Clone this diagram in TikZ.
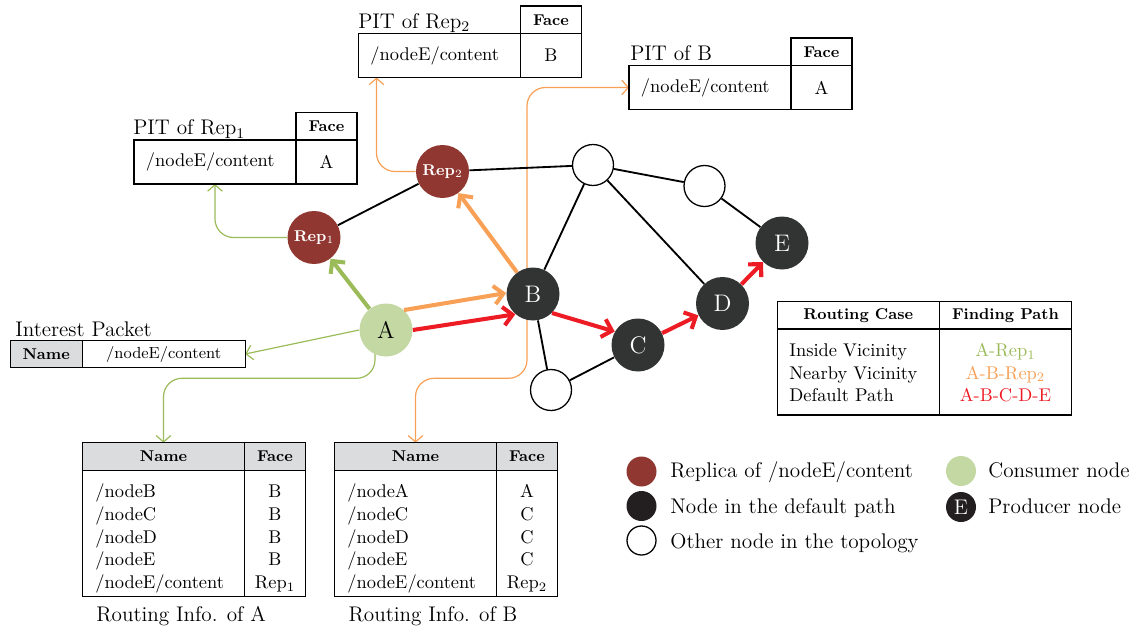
\documentclass[tikz,border=0pt]{standalone}
\usepackage{fontspec}
\usetikzlibrary{arrows.meta,backgrounds}

\newcommand\pxu{0.543pt}
\definecolor{repred}{RGB}{143,55,48}
\definecolor{pathgray}{RGB}{50,52,52}
\definecolor{legblack}{RGB}{35,31,32}
\definecolor{usergreen}{RGB}{196,216,164}
\definecolor{arrgreen}{RGB}{155,187,89}
\definecolor{arrorange}{RGB}{247,160,86}
\definecolor{arrred}{RGB}{237,28,36}
\definecolor{headgray}{RGB}{219,220,222}

\tikzset{
  net/.style={circle, inner sep=0pt, minimum size=53*\pxu, font=\fontsize{13}{15}\selectfont},
  replica/.style={net, fill=repred, text=white, font=\fontsize{8.5}{10}\selectfont\bfseries},
  onpath/.style={net, fill=pathgray, text=white},
  consumer/.style={net, fill=usergreen},
  other/.style={circle, draw, line width=0.7pt, minimum size=41*\pxu, inner sep=0pt},
  link/.style={line width=1pt},
  hop/.style={line width=2.2pt, -{Straight Barb[length=5pt,width=10pt]}},
  info/.style={line width=0.65pt, rounded corners=10pt, -{Straight Barb[length=3.5pt,width=8pt]}},
  cell/.style={draw, line width=0.7pt, inner sep=0pt, outer sep=0pt, font=\fontsize{10}{12}\selectfont},
  wide/.style={minimum width=162*\pxu},
  narrow/.style={minimum width=61*\pxu},
  pitrow/.style={minimum height=44*\pxu},
  flushleft/.style={text width=75pt, align=left},
  headrow/.style={minimum height=27.5*\pxu, font=\fontsize{8.5}{10}\selectfont\bfseries},
  shade/.style={fill=headgray},
  rows/.style={inner sep=0pt, align=left, font=\fontsize{10}{12.3}\selectfont},
  title/.style={inner sep=0pt, font=\fontsize{11.5}{14}\selectfont},
  legdot/.style={circle, inner sep=0pt, minimum size=30*\pxu}
}

\begin{document}
\begin{tikzpicture}[x=\pxu,y=-\pxu]
\useasboundingbox (0,0) rectangle (1143,629);

% topology
\node[consumer] (A) at (386,330) {A};
\node[onpath] (B) at (533,294) {B};
\node[onpath] (C) at (638,345) {C};
\node[onpath] (D) at (722.5,303.5) {D};
\node[onpath] (E) at (782,243) {E};
\node[replica] (rep1) at (314,237.5) {Rep$_1$};
\node[replica] (rep2) at (442.5,171.5) {Rep$_2$};
\node[other] (w1) at (593,165) {};
\node[other] (w2) at (704.5,186) {};
\node[other] (w3) at (551,390) {};

\draw[link] (rep1) -- (rep2) -- (w1) -- (w2) -- (E);
\draw[link] (w1) -- (B) -- (w3) -- (C);
\draw[link] (w1) -- (D);

\draw[hop, arrgreen] (A) -- (rep1);
\draw[hop, arrorange] (A.48) -- (B.178);
\draw[hop, arrorange] (B) -- (rep2);
\draw[hop, arrred] (A.east) -- (B.229);
\draw[hop, arrred] (B.315) -- (C.150);
\draw[hop, arrred] (C) -- (D);
\draw[hop, arrred] (D) -- (E);

% PIT of Rep1
\node[cell, wide, pitrow, flushleft] (pitOneName) at (215,162) {/nodeE/content};
\node[cell, narrow, pitrow, anchor=west] (pitOneFace) at (pitOneName.east) {A};
\node[cell, narrow, headrow, anchor=south] (pitOneHead) at (pitOneFace.north) {Face};
\node[title, anchor=base west] (pitOneTitle) at (133,135) {PIT of Rep$_1$};

% PIT of Rep2
\node[cell, wide, pitrow, flushleft] (pitTwoName) at (439.5,55.5) {/nodeE/content};
\node[cell, narrow, pitrow, anchor=west] (pitTwoFace) at (pitTwoName.east) {B};
\node[cell, narrow, headrow, anchor=south] (pitTwoHead) at (pitTwoFace.north) {Face};
\node[title, anchor=base west] (pitTwoTitle) at (358,28.3) {PIT of Rep$_2$};

% PIT of B
\node[cell, wide, pitrow, flushleft] (pitBName) at (710,87.5) {/nodeE/content};
\node[cell, narrow, pitrow, anchor=west] (pitBFace) at (pitBName.east) {A};
\node[cell, narrow, headrow, anchor=south] (pitBHead) at (pitBFace.north) {Face};
\node[title, anchor=base west] (pitBTitle) at (630,61) {PIT of B};

% interest packet
\node[cell, shade, minimum width=72*\pxu, minimum height=27.7*\pxu, font=\fontsize{8.5}{10}\selectfont\bfseries] (intName) at (46.2,354) {Name};
\node[cell, minimum width=163*\pxu, minimum height=27.7*\pxu, font=\fontsize{8.7}{10}\selectfont, anchor=west] (intValue) at (intName.east) {/nodeE/content};
\node[title, anchor=base west] (intTitle) at (15,336.5) {Interest Packet};

% routing info of A
\node[cell, wide, headrow, shade] (tabAHeadName) at (163.5,456.5) {Name};
\node[cell, narrow, headrow, shade, anchor=west] (tabAHeadFace) at (tabAHeadName.east) {Face};
\node[cell, wide, minimum height=126*\pxu, anchor=north] (tabABodyName) at (tabAHeadName.south) {};
\node[cell, narrow, minimum height=126*\pxu, anchor=north] (tabABodyFace) at (tabAHeadFace.south) {};
\node[rows, anchor=base west] (tabANames) at (95,588.5) {/nodeB\\/nodeC\\/nodeD\\/nodeE\\/nodeE/content};
\node[rows, align=center, anchor=base] (tabAFaces) at (tabABodyFace.center |- tabANames.base) {B\\B\\B\\B\\Rep$_1$};
\node[title, anchor=base west] (tabATitle) at (96,621) {Routing Info. of A};

% routing info of B
\node[cell, wide, headrow, shade] (tabBHeadName) at (415.5,456.5) {Name};
\node[cell, narrow, headrow, shade, anchor=west] (tabBHeadFace) at (tabBHeadName.east) {Face};
\node[cell, wide, minimum height=126*\pxu, anchor=north] (tabBBodyName) at (tabBHeadName.south) {};
\node[cell, narrow, minimum height=126*\pxu, anchor=north] (tabBBodyFace) at (tabBHeadFace.south) {};
\node[rows, anchor=base west] (tabBNames) at (347,588.5) {/nodeA\\/nodeC\\/nodeD\\/nodeE\\/nodeE/content};
\node[rows, align=center, anchor=base] (tabBFaces) at (tabBBodyFace.center |- tabBNames.base) {A\\C\\C\\C\\Rep$_2$};
\node[title, anchor=base west] (tabBTitle) at (348.3,621) {Routing Info. of B};

% routing cases
\node[cell, wide, headrow] (caseHead) at (858.3,315.3) {Routing Case};
\node[cell, headrow, minimum width=132.4*\pxu, anchor=west] (pathHead) at (caseHead.east) {Finding Path};
\node[cell, wide, minimum height=86*\pxu, anchor=north] (caseBody) at (caseHead.south) {};
\node[cell, minimum width=132.4*\pxu, minimum height=86*\pxu, anchor=north] (pathBody) at (pathHead.south) {};
\node[rows, anchor=base west] (caseRows) at (789,401.7) {Inside Vicinity\\Nearby Vicinity\\Default Path};
\node[rows, align=center, anchor=base] (pathRows) at (pathBody.center |- caseRows.base) {\textcolor{arrgreen}{A-Rep$_1$}\\\textcolor{arrorange}{A-B-Rep$_2$}\\\textcolor{arrred}{A-B-C-D-E}};

% legend
\node[legdot, fill=repred] (legRep) at (641.5,471.5) {};
\node[legdot, fill=legblack] (legPath) at (641.5,506) {};
\node[legdot, draw, line width=0.7pt, minimum size=29*\pxu] (legOther) at (641.5,540.5) {};
\node[legdot, fill=usergreen] (legUser) at (961,471) {};
\node[legdot, fill=legblack, text=white, font=\fontsize{11.5}{14}\selectfont] (legProd) at (961,507) {E};
\node[title, anchor=base west] at (670,477.5) {Replica of /nodeE/content};
\node[title, anchor=base west] at (670,513.3) {Node in the default path};
\node[title, anchor=base west] at (670,548.3) {Other node in the topology};
\node[title, anchor=base west] at (988,477.5) {Consumer node};
\node[title, anchor=base west] at (988,513.3) {Producer node};

% where the interest is looked up
\coordinate (bendA) at (163.5,378.3);
\coordinate (bendB) at (415.5,378.3);
\begin{pgfonlayer}{background}
\draw[info, arrgreen] (rep1.west) -| (pitOneName.south);
\draw[info, arrgreen] (A.west) -- (intValue.east);
\draw[info, arrgreen] ([xshift=-11*\pxu]A.center) |- (bendA) -- (tabAHeadName.north);
\draw[info, arrorange] (rep2.west) -| ([xshift=18*\pxu]pitTwoName.south west);
\draw[info, arrorange] ([xshift=-6*\pxu]B.center) |- (pitBName.west);
\draw[info, arrorange] ([xshift=-6*\pxu]B.center) |- (bendB) -- (tabBHeadName.north);
\end{pgfonlayer}
\end{tikzpicture}
\end{document}
